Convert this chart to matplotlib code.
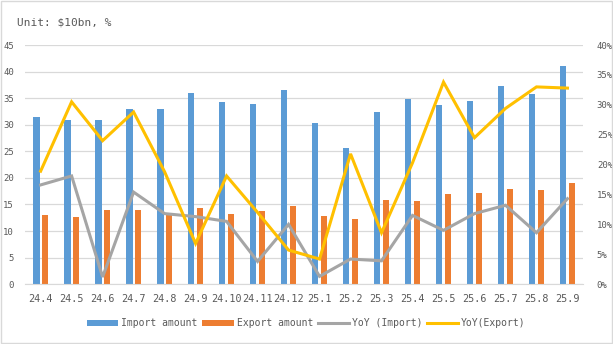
import numpy as np
import matplotlib.pyplot as plt
from matplotlib.ticker import FuncFormatter

# data
months = ["24.4", "24.5", "24.6", "24.7", "24.8", "24.9", "24.10", "24.11", "24.12",
          "25.1", "25.2", "25.3", "25.4", "25.5", "25.6", "25.7", "25.8", "25.9"]
import_amt = [31.4, 30.9, 30.9, 33.0, 33.0, 36.0, 34.3, 33.9, 36.5,
              30.3, 25.6, 32.4, 34.8, 33.7, 34.5, 37.3, 35.8, 41.1]
export_amt = [13.0, 12.6, 13.9, 13.9, 13.0, 14.3, 13.2, 13.7, 14.7,
              12.8, 12.2, 15.8, 15.6, 16.9, 17.1, 17.9, 17.7, 19.0]
yoy_import = [16.6, 18.1, 1.2, 15.4, 11.8, 11.3, 10.5, 3.8, 10.0,
              1.3, 4.2, 3.9, 11.5, 9.0, 11.8, 13.2, 8.6, 14.3]
yoy_export = [18.9, 30.5, 24.0, 28.8, 18.8, 6.8, 18.1, 12.0, 5.7,
              4.2, 21.8, 8.6, 20.3, 33.8, 24.5, 29.4, 33.0, 32.8]

blue = "#5B9BD5"
orange = "#ED7D31"
gray = "#A5A5A5"
yellow = "#FFC000"
txt = "#595959"

plt.rcParams['font.family'] = ['DejaVu Sans Mono', 'DejaVu Sans']

fig = plt.figure(figsize=(6.13, 3.44), dpi=100)
ax = fig.add_axes([0.041, 0.174, 0.91, 0.695])
ax2 = ax.twinx()

x = np.arange(len(months))
w = 0.21
b1 = ax.bar(x - 0.14, import_amt, w, color=blue, label="Import amount", zorder=2)
b2 = ax.bar(x + 0.14, export_amt, w, color=orange, label="Export amount", zorder=2)

l1, = ax2.plot(x, np.array(yoy_import) / 100, color=gray, lw=2.2, label="YoY (Import)",
               solid_joinstyle="miter")
l2, = ax2.plot(x, np.array(yoy_export) / 100, color=yellow, lw=2.2, label="YoY(Export)",
               solid_joinstyle="miter")

ax.set_xlim(-0.5, len(months) - 0.5)
ax.set_ylim(0, 45)
ax.set_yticks(np.arange(0, 46, 5))
ax2.set_ylim(0, 0.40)
ax2.set_yticks(np.arange(0, 0.41, 0.05))
ax2.yaxis.set_major_formatter(FuncFormatter(lambda v, p: f"{v*100:.0f}%"))

ax.set_xticks(x)
ax.set_xticklabels(months, fontsize=7.3, color=txt)
ax.tick_params(axis="y", labelsize=6.5, colors=txt, length=0, pad=8)
ax2.tick_params(axis="y", labelsize=6.5, colors=txt, length=0, pad=10)
ax.tick_params(axis="x", length=0, pad=7)

ax.grid(axis="y", color="#D9D9D9", lw=0.9, zorder=0)
ax.set_axisbelow(True)
for a in (ax, ax2):
    for s in a.spines.values():
        s.set_visible(False)
ax.spines["bottom"].set_visible(True)
ax.spines["bottom"].set_color("#D9D9D9")

fig.text(0.028, 0.935, r"Unit: \$10bn, %", fontsize=8, color=txt, va="center")

fig.legend(handles=[b1, b2, l1, l2], loc="center", bbox_to_anchor=(0.5, 0.06), ncol=4,
           frameon=False, fontsize=7, labelcolor=txt, handlelength=3.2,
           handletextpad=0.3, columnspacing=0.5)

fig.patches.append(plt.Rectangle((0.001, 0.002), 0.997, 0.995, transform=fig.transFigure,
                                 fill=False, edgecolor="#D9D9D9", lw=1))

fig.savefig("out.png", dpi=100)
